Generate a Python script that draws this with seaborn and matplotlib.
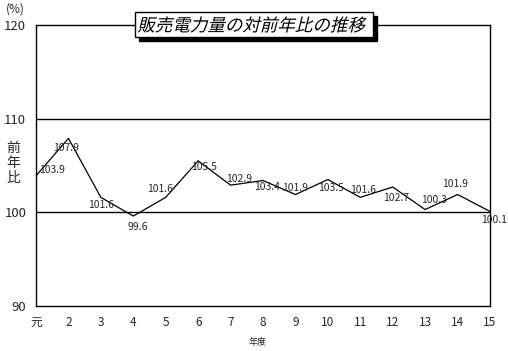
import matplotlib
matplotlib.use('Agg')
import matplotlib.pyplot as plt
import seaborn as sns
import pandas as pd
from matplotlib.textpath import TextPath
from matplotlib.font_manager import FontProperties
from matplotlib.patches import PathPatch, Rectangle
from matplotlib.transforms import Affine2D

# fiscal years (Heisei) and year-over-year ratio of electricity sales (%)
years = ['元', '2', '3', '4', '5', '6', '7', '8', '9', '10', '11', '12', '13', '14', '15']
ratio = [103.9, 107.9, 101.6, 99.6, 101.6, 105.5, 102.9, 103.4, 101.9, 103.5, 101.6, 102.7, 100.3, 101.9, 100.1]
y_ticks = [90, 100, 110, 120]
title_text = '販売電力量の対前年比の推移'

# label offsets from each point, in pixels
label_offsets = [(16, 6), (-2, -10), (0, -8), (4, -11), (-6, 8), (6, -6), (9, 6), (4, -7),
                 (0, 7), (3, -8), (3, 7), (3, -11), (9, 10), (-2, 11), (4, -9)]

W, H = 508, 351
sns.set_style('white')
plt.rcParams['font.family'] = ['Noto Sans CJK JP', 'DejaVu Sans']

df = pd.DataFrame({'pos': range(len(years)), 'ratio': ratio})

fig = plt.figure(figsize=(W / 100, H / 100), dpi=100)
ax = fig.add_axes([36 / W, 1 - 306 / H, 454 / W, 281 / H])

for yv in [100, 110]:
    ax.axhline(yv, color='black', lw=1, zorder=1)

sns.lineplot(data=df, x='pos', y='ratio', color='black', lw=0.9, ax=ax, zorder=3)

for i, v in enumerate(ratio):
    dx, dy = label_offsets[i]
    ax.annotate(f'{v:.1f}', (i, v), xytext=(dx, dy), textcoords='offset pixels',
                ha='center', va='center', fontsize=7.5, zorder=4)

ax.set_xlim(0, len(years) - 1)
ax.set_ylim(90, 120)
ax.set_xticks(range(len(years)))
ax.set_xticklabels(years, fontsize=8.5)
ax.set_yticks(y_ticks)
ax.set_yticklabels([str(t) for t in y_ticks], fontsize=9.5)
ax.tick_params(axis='x', direction='in', length=3, width=1, pad=7, color='black')
ax.tick_params(axis='y', length=0, pad=7)
ax.set_xlabel('')
ax.set_ylabel('')
for s in ax.spines.values():
    s.set_visible(True)
    s.set_color('black')
    s.set_linewidth(1)

fig.text(15 / W, 1 - 9 / H, '(%)', ha='center', va='center', fontsize=8.5)
fig.text(13 / W, 1 - 163 / H, '前\n年\n比', ha='center', va='center', fontsize=10, linespacing=1.05)
fig.text(258 / W, 1 - 342 / H, '年度', ha='center', va='center', fontsize=6.5)

# title box with drop shadow and slanted text (pixel coords, origin bottom-left)
bx0, bx1, by_top, by_bot = 135, 373, 12, 37
fig.add_artist(Rectangle((bx0 + 4, H - by_bot - 4), bx1 - bx0, by_bot - by_top,
                         transform=None, fc='black', ec='black', lw=1, zorder=9))
fig.add_artist(Rectangle((bx0, H - by_bot), bx1 - bx0, by_bot - by_top,
                         transform=None, fc='white', ec='black', lw=1, zorder=10))
tp = TextPath((0, 0), title_text, size=17.5, prop=FontProperties(family='Noto Sans CJK JP'))
ext = tp.get_extents()
tx = (bx0 + bx1) / 2 - ext.width / 2 - ext.x0
ty = H - (by_top + by_bot) / 2 - ext.height / 2 - ext.y0
fig.add_artist(PathPatch(tp, transform=Affine2D().skew_deg(14, 0).translate(tx - 3, ty),
                         fc='black', ec='none', zorder=11))

fig.savefig('out.png', dpi=100)
